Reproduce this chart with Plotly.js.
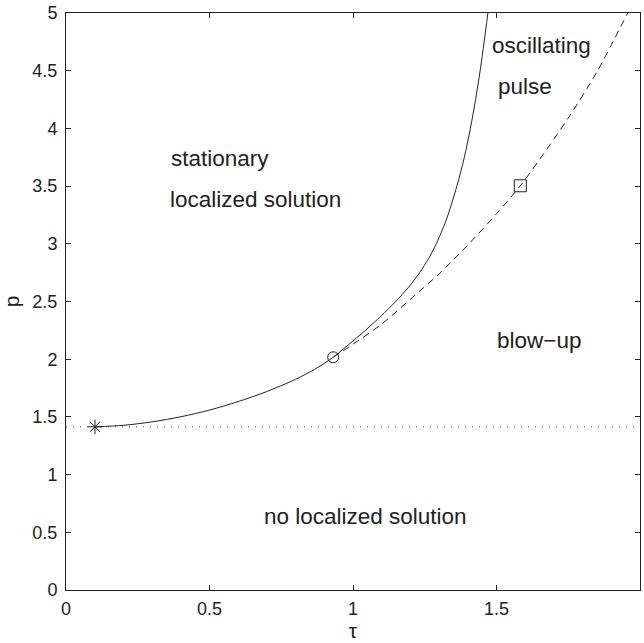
<!DOCTYPE html>
<html>
<head>
<meta charset="utf-8">
<script src="https://cdn.plot.ly/plotly-3.0.1.min.js"></script>
<style>html,body{margin:0;padding:0;background:#fff;}#chart{width:644px;height:643px;}</style>
</head>
<body>
<div id="chart"></div>
<script>
// Solid boundary curve (stationary localized solution boundary)
const solidTau = [0.101, 0.2, 0.3, 0.4, 0.5, 0.6, 0.7, 0.8, 0.866, 0.931, 0.984, 1.043, 1.098, 1.149, 1.194, 1.232, 1.264, 1.29, 1.312, 1.331, 1.362, 1.388, 1.409, 1.427, 1.443, 1.457, 1.47];
const solidP   = [1.414, 1.427, 1.457, 1.501, 1.559, 1.633, 1.72, 1.826, 1.912, 2.017, 2.125, 2.25, 2.375, 2.5, 2.625, 2.75, 2.875, 3.0, 3.125, 3.25, 3.5, 3.75, 4.0, 4.25, 4.5, 4.75, 5.0];
// Dashed curve (blow-up boundary)
const dashTau = [0.931, 1.0, 1.1, 1.2, 1.3, 1.4, 1.5, 1.583, 1.65, 1.75, 1.85, 1.957];
const dashP   = [2.017, 2.13, 2.305, 2.52, 2.74, 2.99, 3.26, 3.503, 3.73, 4.09, 4.49, 5.0];
// Dotted threshold line
const dotTau = [0, 2];
const dotP   = [1.414, 1.414];
// Special points
const starTau = [0.101];   const starP = [1.414];
const circTau = [0.931];   const circP = [2.017];
const sqTau   = [1.583];   const sqP   = [3.503];
// Region labels
const labelText = ["stationary", "localized solution", "oscillating", "pulse", "blow\u2212up", "no localized solution"];
const labelTau  = [0.537, 0.659, 1.657, 1.598, 1.648, 1.045];
const labelP    = [3.74, 3.38, 4.72, 4.36, 2.16, 0.64];
// Ticks
const xTicks = [0, 0.5, 1, 1.5, 2];
const xTickText = ["0", "0.5", "1", "1.5", "2"];
const yTicks = [0, 0.5, 1, 1.5, 2, 2.5, 3, 3.5, 4, 4.5, 5];
const yTickText = ["0", "0.5", "1", "1.5", "2", "2.5", "3", "3.5", "4", "4.5", "5"];

const FONT = "Liberation Sans, Arial, Helvetica, sans-serif";
const ink = "#222";

const traces = [
  {x: dotTau, y: dotP, mode: "lines", line: {color: "#444", width: 1, dash: "1px,6px"}, hoverinfo: "skip"},
  {x: solidTau, y: solidP, mode: "lines", line: {color: ink, width: 1, shape: "spline", smoothing: 0.8}},
  {x: dashTau, y: dashP, mode: "lines", line: {color: ink, width: 1, dash: "7px,5px", shape: "spline", smoothing: 0.8}},
  {x: starTau, y: starP, mode: "markers", marker: {symbol: "asterisk-open", size: 12, color: ink, line: {color: ink, width: 1}}},
  {x: circTau, y: circP, mode: "markers", marker: {symbol: "circle-open", size: 11, color: ink, line: {color: ink, width: 1}}},
  {x: sqTau, y: sqP, mode: "markers", marker: {symbol: "square-open", size: 12, color: ink, line: {color: ink, width: 1}}}
];

const annotations = labelText.map((t, i) => ({
  x: labelTau[i], y: labelP[i], xref: "x", yref: "y", text: t, showarrow: false,
  font: {family: FONT, size: 22.5, color: ink}, xanchor: "center", yanchor: "middle"
}));

const axisCommon = {
  showline: true, linecolor: ink, linewidth: 1, mirror: "ticks",
  ticks: "inside", ticklen: 5, tickcolor: ink, tickwidth: 1,
  showgrid: false, zeroline: false,
  tickfont: {family: FONT, size: 18, color: ink}
};

const layout = {
  width: 644, height: 643,
  margin: {l: 66, r: 4, t: 13, b: 53},
  paper_bgcolor: "#fff", plot_bgcolor: "#fff",
  showlegend: false,
  xaxis: Object.assign({}, axisCommon, {
    range: [0, 2], tickvals: xTicks, ticktext: xTickText, ticklabelstandoff: 2,
    title: {text: "\u03c4", font: {family: FONT, size: 21, color: ink}, standoff: 5}
  }),
  yaxis: Object.assign({}, axisCommon, {
    range: [0, 5], tickvals: yTicks, ticktext: yTickText, ticklabelstandoff: 4,
    title: {text: "p", font: {family: FONT, size: 21, color: ink}, standoff: 8}
  }),
  annotations: annotations
};

Plotly.newPlot("chart", traces, layout, {displayModeBar: false, staticPlot: true});
</script>
</body>
</html>
